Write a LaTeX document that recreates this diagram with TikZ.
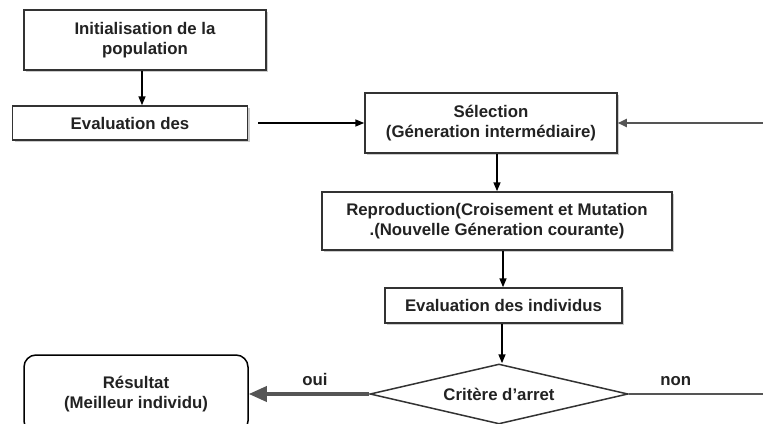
\documentclass[tikz,border=0pt]{standalone}
\usepackage{fontspec}
\setmainfont{Liberation Sans}
\usetikzlibrary{arrows.meta,shapes.geometric,shadows}
\definecolor{ink}{HTML}{222222}
\definecolor{edge}{HTML}{333333}
\definecolor{grayarrow}{HTML}{555555}
\begin{document}
\begin{tikzpicture}[x=1pt,y=-1pt,
  every node/.style={font=\fontsize{16.8}{20}\selectfont\bfseries, text=ink, align=center, inner sep=0pt},
  procbox/.style={draw=edge, line width=1.5pt, fill=white, minimum width=#1,
    drop shadow={shadow xshift=2pt, shadow yshift=-2pt, fill=black!40, opacity=0.5}},
  flow/.style={draw=black, line width=1.6pt, -{Triangle[length=9pt,width=7pt]}},
  grayflow/.style={draw=grayarrow, line width=2pt, -{Triangle[length=9pt,width=8pt]}},
  bigflow/.style={draw=grayarrow, line width=3.5pt, -{Triangle[length=18pt,width=15pt]}},
  plain/.style={draw=grayarrow, line width=2pt}
]
\useasboundingbox (0,0) rectangle (763,423);
\node[procbox=242, minimum height=60] (init) at (145,40) {Initialisation de la\\population};
\node[procbox=235, minimum height=34] (eval1) at (130,123) {Evaluation des};
\node[procbox=252, minimum height=60] (sel) at (491,123) {Sélection\\(Géneration intermédiaire)};
\node[procbox=350, minimum height=58] (repro) at (497,221) {Reproduction(Croisement et Mutation\\.(Nouvelle Géneration courante)};
\node[procbox=237, minimum height=35] (evali) at (503.5,305.5) {Evaluation des individus};
\node[diamond, draw=edge, line width=1.5pt, fill=white, aspect=4.3, minimum width=258, minimum height=60] (crit) at (499,394) {Critère d'arret};
\node[draw=black, line width=1.5pt, rounded corners=12pt, minimum width=224, minimum height=78] (res) at (136,394) {Résultat\\(Meilleur individu)};
\coordinate (rin) at (763,123);
\coordinate (nout) at (763,394);

\draw[flow] ([xshift=-3pt]init.south) -- ([xshift=-3pt]init.south |- eval1.north);
\draw[flow, shorten <=10pt] (eval1.east) -- (sel.west);
\draw[grayflow] (rin) -- (sel.east);
\draw[flow] ([xshift=6pt]sel.south) -- ([xshift=6pt]sel.south |- repro.north);
\draw[flow] ([xshift=6pt]repro.south) -- ([xshift=6pt]repro.south |- evali.north);
\draw[flow] ([xshift=-1.5pt]evali.south) -- ([xshift=-1.5pt]evali.south |- crit.north);
\draw[bigflow] (crit.west) -- node[above=7pt, pos=0.45] {oui} (res.east);
\draw[plain] (crit.east) -- node[above=7pt, pos=0.35] {non} (nout);
\end{tikzpicture}
\end{document}
